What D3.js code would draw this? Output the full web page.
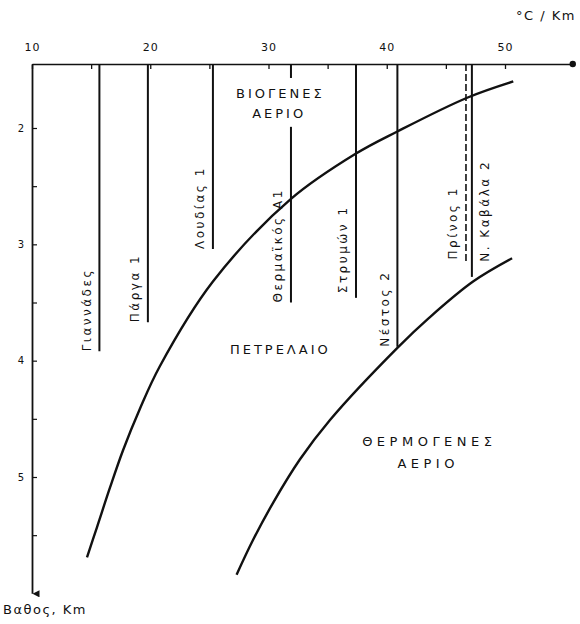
<!DOCTYPE html>
<html>
<head>
<meta charset="utf-8">
<script src="https://cdn.jsdelivr.net/npm/d3@7"></script>
<style>
  body { margin: 0; background: #fff; }
  svg { display: block; }
  text { font-family: "DejaVu Sans", "Liberation Sans", sans-serif; fill: #111; }
</style>
</head>
<body>
<script>
// ---------- DATA ----------
// wells: geothermal gradient (°C/Km) and total depth (Km)
var wellNames = ["Γιαννάδες", "Πάργα 1", "Λουδίας 1", "Θερμαϊκός Α1", "Στρυμών 1", "Νέστος 2", "Πρίνος 1", "Ν. Καβάλα 2"];
var wellGradients = [15.7, 19.8, 25.3, 31.9, 37.4, 40.9, 46.7, 47.2];
var wellDepths = [3.92, 3.67, 3.04, 3.50, 3.46, 3.88, 3.16, 3.28];

// upper boundary of the oil window
var oilTopGrad = [14.65, 15.5, 16.6, 17.7, 19.1, 20.8, 25.3, 31.9, 37.4, 40.9, 46.8, 50.7];
var oilTopDepth = [5.69, 5.43, 5.09, 4.77, 4.42, 4.05, 3.32, 2.61, 2.22, 2.03, 1.74, 1.60];

// lower boundary of the oil window
var oilBaseGrad = [27.3, 28.7, 30.4, 32.65, 35.2, 40.9, 43.6, 47.3, 50.6];
var oilBaseDepth = [5.84, 5.54, 5.22, 4.85, 4.51, 3.89, 3.63, 3.32, 3.12];

var gradTicks = [10, 15, 20, 25, 30, 35, 40, 45, 50];
var depthTicks = [2, 2.5, 3, 3.5, 4, 4.5, 5, 5.5];

var zoneLabels = ["ΒΙΟΓΕΝΕΣ", "ΑΕΡΙΟ", "ΠΕΤΡΕΛΑΙΟ", "ΘΕΡΜΟΓΕΝΕΣ", "ΑΕΡΙΟ"];

// ---------- DIMENSIONS ----------
var w = 580, h = 624;

var x = d3.scaleLinear().domain([10, 50]).range([32, 505]);
var y = d3.scaleLinear().domain([2, 5]).range([128, 477]);

var gradMax = 55.9, depthMin = 1.45, depthMax = 6.0;

// zone label anchors (in gradient / depth units) and letter spacing
var zonePos = [[31.0, 1.70], [30.9, 1.87], [31.0, 3.90], [43.6, 4.69], [43.5, 4.88]];
var zoneSpacing = [3, 3, 3, 4.5, 4.5];

// well label tweaks: side of the line and where the text starts
var labelSide = [-1, -1, -1, -1, -1, -1, -1, 1];
var labelStart = [3.92, 3.67, 3.04, 3.50, 3.42, 3.88, 3.13, 3.15];

var svg = d3.select("body").append("svg")
  .attr("width", w)
  .attr("height", h);

var defs = svg.append("defs");
defs.append("marker")
  .attr("id", "arrowDown")
  .attr("viewBox", "0 0 10 10")
  .attr("refX", 5).attr("refY", 10)
  .attr("markerWidth", 7).attr("markerHeight", 12)
  .attr("markerUnits", "userSpaceOnUse")
  .attr("orient", "auto-start-reverse")
  .append("path").attr("d", "M0,0 L10,0 L5,10 Z").attr("fill", "#111");

// ---------- TOP AXIS ----------
var xAxisScale = x.copy().domain([10, gradMax]).range([x(10), x(gradMax)]);
var xAxis = d3.axisTop(xAxisScale)
  .tickValues(gradTicks)
  .tickSizeInner(-5)
  .tickSizeOuter(0)
  .tickPadding(13)
  .tickFormat(d => d % 10 === 0 ? d : "");

var gx = svg.append("g")
  .attr("transform", "translate(0," + y(depthMin) + ")")
  .call(xAxis);
gx.select(".domain").attr("stroke", "#111").attr("stroke-width", 1.6);
gx.selectAll(".tick line").attr("stroke", "#111").attr("stroke-width", 1.3);
gx.selectAll(".tick text")
  .attr("font-size", "11px")
  .attr("letter-spacing", "1px")
  .attr("fill", "#111")
  .style("font-family", "'DejaVu Sans', sans-serif");

// arrow dot at the end of the gradient axis
svg.append("circle")
  .attr("cx", x(gradMax) - 2)
  .attr("cy", y(depthMin))
  .attr("r", 3.2)
  .attr("fill", "#111");

svg.append("text")
  .attr("x", 576)
  .attr("y", 20)
  .attr("text-anchor", "end")
  .attr("font-size", "13px")
  .attr("letter-spacing", "1.5px")
  .text("°C / Km");

// ---------- LEFT AXIS ----------
var yAxisScale = y.copy().domain([depthMin, depthMax]).range([y(depthMin), y(depthMax)]);
var yAxis = d3.axisLeft(yAxisScale)
  .tickValues(depthTicks)
  .tickSizeInner(-5)
  .tickSizeOuter(0)
  .tickPadding(8)
  .tickFormat(d => Number.isInteger(d) ? d : "");

var gy = svg.append("g")
  .attr("transform", "translate(" + x(10) + ",0)")
  .call(yAxis);
gy.select(".domain")
  .attr("stroke", "#111")
  .attr("stroke-width", 1.8)
  .attr("marker-end", "url(#arrowDown)");
gy.selectAll(".tick line").attr("stroke", "#111").attr("stroke-width", 1.2);
gy.selectAll(".tick text")
  .attr("font-size", "10px")
  .attr("fill", "#111")
  .style("font-family", "'DejaVu Sans', sans-serif");

svg.append("text")
  .attr("x", 3)
  .attr("y", 614)
  .attr("font-size", "13px")
  .attr("letter-spacing", "1.5px")
  .text("Βαθος,  Km");

// ---------- WELLS ----------
var wells = wellNames.map((name, i) => ({
  name: name,
  grad: wellGradients[i],
  depth: wellDepths[i],
  side: labelSide[i],
  start: labelStart[i],
  dashed: name === "Πρίνος 1"
}));

svg.append("g").selectAll("line")
  .data(wells)
  .join("line")
  .attr("x1", d => x(d.grad)).attr("x2", d => x(d.grad))
  .attr("y1", y(depthMin))
  .attr("y2", d => y(d.depth))
  .attr("stroke", "#111")
  .attr("stroke-width", d => d.dashed ? 1.6 : 2)
  .attr("stroke-dasharray", d => d.dashed ? "7,3" : null);

svg.append("g").selectAll("text")
  .data(wells)
  .join("text")
  .attr("transform", d => "translate(" + (x(d.grad) + d.side * 13) + "," + y(d.start) + ") rotate(-90)")
  .attr("dy", "0.35em")
  .attr("font-size", "12px")
  .attr("letter-spacing", "2.5px")
  .text(d => d.name);

// ---------- OIL WINDOW CURVES ----------
var line = d3.line()
  .x(d => x(d[0]))
  .y(d => y(d[1]))
  .curve(d3.curveCatmullRom.alpha(0.5));

var oilTop = oilTopGrad.map((g, i) => [g, oilTopDepth[i]]);
var oilBase = oilBaseGrad.map((g, i) => [g, oilBaseDepth[i]]);

svg.append("g").selectAll("path")
  .data([oilTop, oilBase])
  .join("path")
  .attr("d", line)
  .attr("fill", "none")
  .attr("stroke", "#111")
  .attr("stroke-width", 2.4);

// ---------- ZONE LABELS ----------
// white patch: the Θερμαϊκός line is broken behind the biogenic gas label
svg.append("rect")
  .attr("x", x(zonePos[0][0]) - 50)
  .attr("y", y(1.57))
  .attr("width", 100)
  .attr("height", y(1.99) - y(1.57))
  .attr("fill", "#fff");

svg.append("g").selectAll("text")
  .data(zoneLabels)
  .join("text")
  .attr("x", (d, i) => x(zonePos[i][0]))
  .attr("y", (d, i) => y(zonePos[i][1]))
  .attr("dy", "0.38em")
  .attr("text-anchor", "middle")
  .attr("font-size", "13px")
  .attr("letter-spacing", (d, i) => zoneSpacing[i] + "px")
  .text(d => d);
</script>
</body>
</html>
